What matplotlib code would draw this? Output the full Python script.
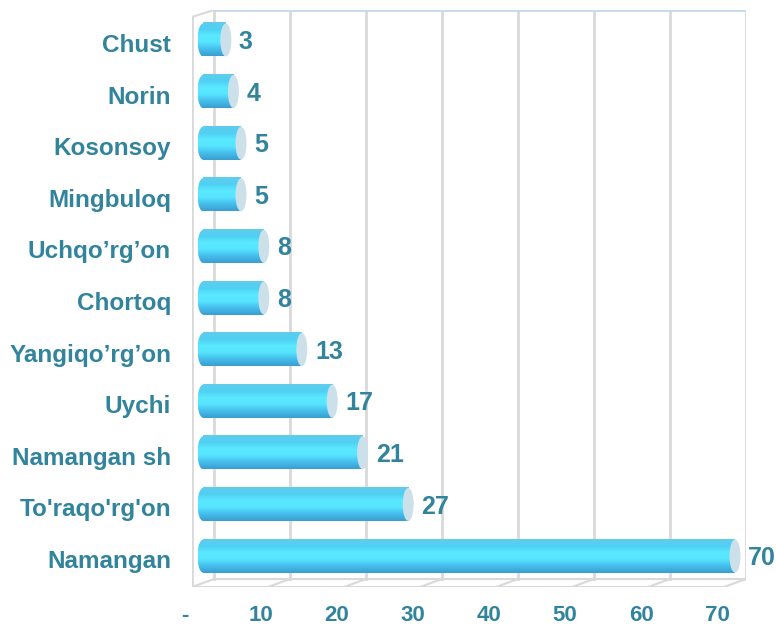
#!/usr/bin/env python3
"""Horizontal 'cylinder' bar chart of district counts (Namangan region)."""

import numpy as np
import matplotlib
matplotlib.use("Agg")
import matplotlib.pyplot as plt
from matplotlib.colors import LinearSegmentedColormap
from matplotlib.patches import Ellipse
from matplotlib.transforms import ScaledTranslation

# data (bottom -> top)
districts = ["Namangan", "To'raqo'rg'on", "Namangan sh", "Uychi", "Yangiqo’rg’on",
             "Chortoq", "Uchqo’rg’on", "Mingbuloq", "Kosonsoy", "Norin", "Chust"]
values = [70, 27, 21, 17, 13, 8, 8, 5, 5, 4, 3]
tick_vals = [0, 10, 20, 30, 40, 50, 60, 70]
tick_labels = ["-", "10", "20", "30", "40", "50", "60", "70"]

plt.rcParams['font.family'] = ['Liberation Sans', 'DejaVu Sans']
TEXT = '#31849B'
GRID = '#D9D9D9'

W, H = 776, 627
PX = 7.6  # pixels per value unit
fig = plt.figure(figsize=(W / 100, H / 100), dpi=100)


def rect(x0, y0, x1, y1):
    # pixel box (top-left origin) -> figure fraction
    return [x0 / W, 1 - y1 / H, (x1 - x0) / W, (y1 - y0) / H]


# 3D box: walls + floor
box_l, box_r, box_t, box_b = 192, 746, 10, 587
D = 22 / PX               # depth offset in value units
fy = 8 / (box_b - box_t)  # floor depth in axes fraction
ty = 7 / (box_b - box_t)
ax_box = fig.add_axes(rect(box_l, box_t, box_r, box_b))
ax_box.set_xlim(0, (box_r - box_l) / PX)
ax_box.set_ylim(0, 1)
for v in tick_vals:
    ax_box.plot([v + D, v + D], [fy, 1], color=GRID, lw=2, zorder=1)
    ax_box.plot([v, v + D], [0, fy], color=GRID, lw=1.5, zorder=1)
ax_box.plot([D, tick_vals[-1] + D], [1, 1], color='#C6D9F1', lw=2, zorder=1)
ax_box.plot([0, tick_vals[-1]], [0, 0], color=GRID, lw=1.5, zorder=1)
ax_box.plot([D, tick_vals[-1] + D], [fy, fy], color=GRID, lw=1.5, zorder=1)
ax_box.plot([0, 0], [0, 1 - ty], color=GRID, lw=2, zorder=1)
ax_box.plot([0, D], [1 - ty, 1], color=GRID, lw=1.5, zorder=1)
for s in ax_box.spines.values():
    s.set_visible(False)
ax_box.set_yticks([])
ax_box.set_xticks(tick_vals)
ax_box.set_xticklabels(tick_labels, fontsize=16, fontweight='bold', color=TEXT)
ax_box.tick_params(axis='x', length=0, pad=13)
shift = ScaledTranslation(-7 / 100, 0, fig.dpi_scale_trans)
for lbl in ax_box.get_xticklabels():
    lbl.set_transform(lbl.get_transform() + shift)

# bars
x_lo, x_hi = -1, 72
ax = fig.add_axes(rect(203 + x_lo * PX, 9, 203 + x_hi * PX, 587))
ax.patch.set_alpha(0)

cmap = LinearSegmentedColormap.from_list(
    'cyl', ['#3A9FD0', '#45BDEB', '#56E4FF', '#5AE9FF', '#4FD0F4', '#62CCEC'])
grad = np.linspace(0, 1, 64).reshape(-1, 1)
bh = 0.64
cap_w = 11 / PX
for i, v in enumerate(values):
    y0, y1 = i - bh / 2, i + bh / 2
    ax.imshow(grad, extent=[0, v, y0, y1], origin='lower', cmap=cmap,
              aspect='auto', interpolation='bicubic', zorder=3)
    left = Ellipse((0, i), cap_w, bh, transform=ax.transData)
    im = ax.imshow(grad, extent=[-cap_w / 2, 0.05, y0, y1], origin='lower',
                   cmap=cmap, aspect='auto', interpolation='bicubic', zorder=3)
    im.set_clip_path(left)
    ax.add_patch(Ellipse((v, i), cap_w, bh, facecolor='#CBE0E8',
                         edgecolor='none', zorder=4))
    ax.annotate(str(v), (v + cap_w / 2, i), xytext=(5.5, -1.5), textcoords='offset points',
                ha='left', va='center', fontsize=18, fontweight='bold',
                color=TEXT, zorder=5, annotation_clip=False)

ax.set_xlim(x_lo, x_hi)
ax.set_ylim(-0.6, len(values) - 0.4)
ax.set_yticks(range(len(districts)))
ax.set_yticklabels(districts, fontsize=17.5, fontweight='bold', color=TEXT)
ax.tick_params(axis='y', length=0, pad=17.5)
down = ScaledTranslation(0, -3 / 100, fig.dpi_scale_trans)
for lbl in ax.get_yticklabels():
    lbl.set_transform(lbl.get_transform() + down)
ax.set_xticks([])
for s in ax.spines.values():
    s.set_visible(False)

plt.savefig('out.png', dpi=100)
